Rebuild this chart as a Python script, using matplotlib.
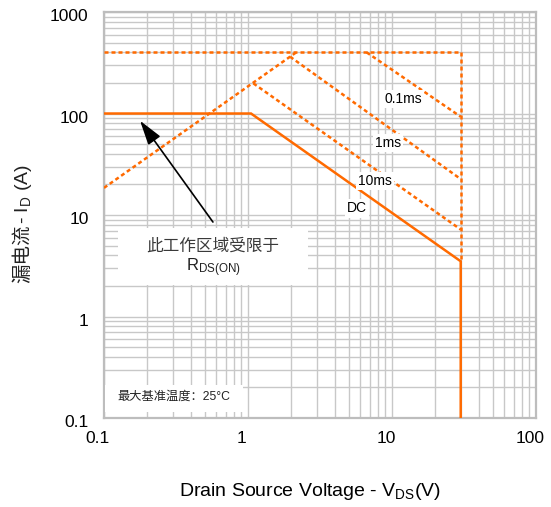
import matplotlib.pyplot as plt
from matplotlib.patches import Rectangle
from matplotlib.transforms import ScaledTranslation

plt.rcParams['font.family'] = ['Liberation Sans', 'Noto Sans CJK SC', 'DejaVu Sans']
plt.rcParams['mathtext.fontset'] = 'custom'
plt.rcParams['mathtext.rm'] = 'Liberation Sans'
plt.rcParams['mathtext.it'] = 'Liberation Sans:italic'
plt.rcParams['mathtext.bf'] = 'Liberation Sans:bold'

orange = '#ff6a00'

# safe operating area boundaries (V, A)
dc_v = [0.1, 1.05, 30, 30]
dc_i = [100, 100, 3.5, 0.1]
rds_v = [0.1, 2.16]
rds_i = [18.5, 400]
pulse_names = ['10ms', '1ms', '0.1ms']
pulse_v = [[1.09, 30], [1.96, 30], [6.67, 30]]
pulse_i = [[198, 7.2], [363, 22.6], [400, 93]]
top_v = [0.1, 30, 30]
top_i = [400, 400, 3.5]

x_ticks = [0.1, 1, 10, 100]
x_ticklabels = ['0.1', '1', '10', '100']
y_ticks = [0.1, 1, 10, 100, 1000]
y_ticklabels = ['0.1', '1', '10', '100', '1000']

fig = plt.figure(figsize=(5.51, 5.07), dpi=100)
ax = fig.add_axes([0.1887, 0.1755, 0.7841, 0.8008])
ax.set_xscale('log')
ax.set_yscale('log')
ax.set_xlim(0.1, 100)
ax.set_ylim(0.1, 1000)

ax.grid(True, which='both', color='#c8c8c8', lw=1.0)
ax.set_axisbelow(True)
for s in ax.spines.values():
    s.set_color('#bdbdbd')
    s.set_linewidth(1.6)

dash = (0, (1.6, 1.2))
ax.plot(dc_v, dc_i, color=orange, lw=1.8, solid_joinstyle='miter', zorder=3)
ax.plot(rds_v, rds_i, color=orange, lw=1.8, linestyle=dash, zorder=3)
ax.plot(top_v, top_i, color=orange, lw=1.8, linestyle=dash, zorder=3)
for v, i in zip(pulse_v, pulse_i):
    ax.plot(v, i, color=orange, lw=1.8, linestyle=dash, zorder=3)

# curve labels
label_pos = {'0.1ms': (11.9, 139), '1ms': (9.33, 50.9), '10ms': (7.62, 21.6), 'DC': (5.69, 11.6)}
for name, (x, y) in label_pos.items():
    ax.text(x, y, name, fontsize=10, ha='center', va='center', zorder=4,
            bbox=dict(facecolor='white', edgecolor='none', pad=1.5))

ax.set_xticks(x_ticks)
ax.set_xticklabels(x_ticklabels)
ax.set_yticks(y_ticks)
ax.set_yticklabels(y_ticklabels)
ax.tick_params(which='both', length=0, labelsize=12.5)
ax.tick_params(axis='y', pad=11)
ax.tick_params(axis='x', pad=9)
for lab in ax.get_xticklabels():
    lab.set_transform(lab.get_transform() + ScaledTranslation(-0.06, 0, fig.dpi_scale_trans))
for lab in ax.get_yticklabels():
    lab.set_transform(lab.get_transform() + ScaledTranslation(0, -0.03, fig.dpi_scale_trans))

fig.text(310 / 551, 1 - 492 / 507, 'Drain Source Voltage - V$_{\\mathrm{DS}}$(V)',
         fontsize=14, ha='center', va='center')
# y label: Chinese part and the latin part are two rotated texts stacked
fig.text(23 / 551, 1 - 283 / 507, '漏电流', family='Noto Sans CJK SC', color='#222222',
         fontsize=14, rotation=90, ha='center', va='bottom')
fig.text(24 / 551, 1 - 224 / 507, '- I$_{\\mathrm{D}}$ (A)', fontsize=14, color='#222222',
         rotation=90, ha='center', va='bottom')

# RDS(on) limited region note
ax.add_patch(Rectangle((0.0324, 0.3276), 0.4396, 0.1404, transform=ax.transAxes,
                       facecolor='white', edgecolor='none', zorder=4))
ax.annotate('', xy=(0.178, 84.9), xytext=(0.571, 8.53),
            arrowprops=dict(arrowstyle='-|>,head_length=1.0,head_width=0.3',
                            mutation_scale=15, color='black', lw=1.2,
                            shrinkA=0, shrinkB=0), zorder=5)
ax.text(0.571, 1000 * 10 ** (-(246 - 12) / 101.5), '此工作区域受限于', fontsize=12,
        color='#3a3a3a', ha='center', va='center', zorder=5)
ax.text(0.571, 1000 * 10 ** (-(268 - 12) / 101.5), 'R$_{\\mathrm{DS(ON)}}$', fontsize=12,
        color='#222222', ha='center', va='center', zorder=5)

ax.add_patch(Rectangle((0.002, 0.015), 0.32, 0.066, transform=ax.transAxes,
                       facecolor='white', edgecolor='none', zorder=4))
ax.text(0.030, 0.052, '最大基准温度：25°C', fontsize=8.8, color='#222222',
        ha='left', va='center', transform=ax.transAxes, zorder=5)

fig.savefig('out.png', dpi=100)
